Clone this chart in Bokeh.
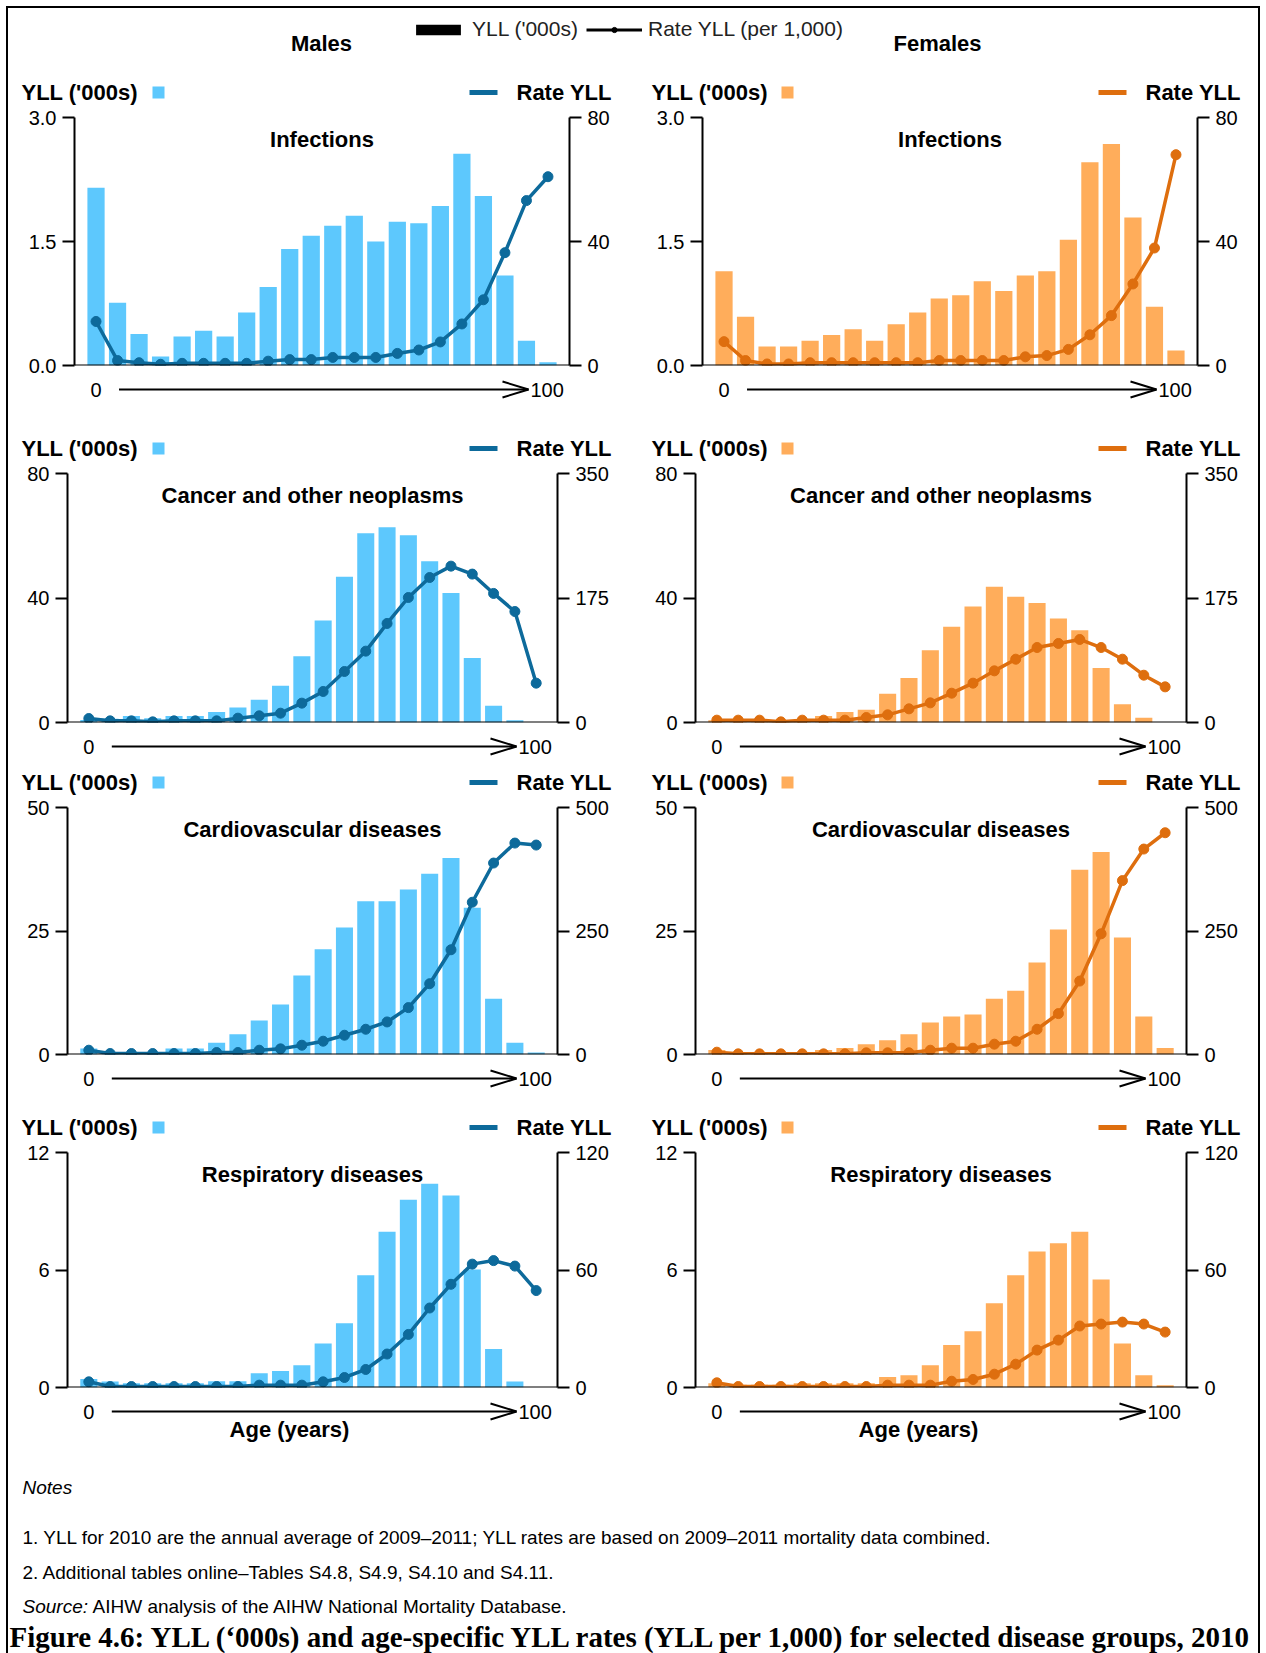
from bokeh.plotting import figure
from bokeh.models import (ColumnDataSource, Range1d, LinearAxis, FixedTicker, Label,
                          Span, BoxAnnotation, Arrow, Legend, LegendItem)
from bokeh.layouts import column, row
from bokeh.embed import file_html
from bokeh.resources import INLINE

# ---------------- data ----------------
age_groups = ["0", "1–4", "5–9", "10–14", "15–19", "20–24", "25–29", "30–34", "35–39",
              "40–44", "45–49", "50–54", "55–59", "60–64", "65–69", "70–74", "75–79",
              "80–84", "85–89", "90–94", "95–99", "100+"]
age_pos = list(range(len(age_groups)))
age_end_labels = ["0", "100"]

sex_titles = ["Males", "Females"]
disease_titles = ["Infections", "Cancer and other neoplasms",
                  "Cardiovascular diseases", "Respiratory diseases"]

male_inf_yll = [2.15, 0.76, 0.38, 0.11, 0.35, 0.42, 0.35, 0.64, 0.95, 1.41, 1.57, 1.69,
                1.81, 1.50, 1.74, 1.72, 1.93, 2.56, 2.05, 1.09, 0.30, 0.04]
male_inf_rate = [14.2, 1.6, 0.9, 0.4, 0.7, 0.7, 0.7, 0.7, 1.4, 1.9, 1.9, 2.6, 2.6, 2.6,
                 3.9, 5.0, 7.6, 13.4, 21.2, 36.4, 53.2, 60.9]
female_inf_yll = [1.14, 0.59, 0.23, 0.23, 0.30, 0.37, 0.44, 0.30, 0.50, 0.64, 0.81, 0.85,
                  1.02, 0.90, 1.09, 1.14, 1.52, 2.46, 2.68, 1.79, 0.71, 0.18]
female_inf_rate = [7.7, 1.6, 0.5, 0.5, 0.9, 0.9, 0.9, 0.9, 0.9, 0.9, 1.6, 1.6, 1.6, 1.6,
                   2.8, 3.2, 5.2, 9.9, 16.1, 26.3, 37.9, 68.0]

male_can_yll = [0.8, 1.2, 2.1, 1.4, 2.1, 2.1, 3.4, 4.8, 7.3, 11.8, 21.3, 32.8, 46.8, 60.8,
                62.7, 60.2, 51.8, 41.6, 20.7, 5.4, 0.75, 0.0]
male_can_rate = [5.6, 2.3, 2.3, 0.9, 2.3, 2.3, 2.3, 6.1, 9.4, 13.1, 27.2, 43.6, 71.7, 100.3,
                 139.2, 175.7, 203.8, 219.8, 208.6, 181.4, 156.0, 55.3]
female_can_yll = [0.7, 1.1, 1.1, 0.5, 1.1, 2.1, 3.4, 4.1, 9.2, 14.3, 23.2, 30.8, 37.3, 43.6,
                  40.4, 38.4, 33.4, 29.6, 17.5, 5.9, 1.5, 0.0]
female_can_rate = [3.3, 3.3, 3.3, 0.9, 3.3, 3.3, 3.3, 7.0, 10.8, 19.2, 27.6, 41.2, 55.3, 72.6,
                   89.0, 105.4, 111.1, 116.7, 105.4, 89.0, 66.5, 50.1]

male_cvd_yll = [1.2, 0.5, 0.5, 0.5, 1.2, 1.2, 2.4, 4.1, 6.9, 10.1, 16.0, 21.3, 25.7, 31.0,
                31.0, 33.4, 36.6, 39.8, 29.7, 11.3, 2.4, 0.4]
male_cvd_rate = [8.7, 2.0, 2.0, 2.0, 2.0, 2.0, 4.0, 4.0, 8.7, 11.4, 18.8, 26.9, 39.0, 51.1,
                 65.9, 94.9, 143.3, 212.0, 308.2, 387.6, 428.0, 424.0]
female_cvd_yll = [0.9, 0.3, 0.4, 0.4, 0.4, 0.9, 1.3, 2.1, 2.9, 4.1, 6.5, 7.7, 8.1, 11.3,
                  12.9, 18.6, 25.3, 37.4, 41.0, 23.7, 7.7, 1.3]
female_cvd_rate = [4.7, 1.3, 1.3, 1.3, 1.3, 1.3, 1.3, 3.4, 3.4, 3.4, 8.7, 12.8, 12.8, 20.9,
                   26.9, 51.1, 82.8, 148.7, 244.3, 352.0, 415.9, 448.9]

male_resp_yll = [0.43, 0.31, 0.22, 0.22, 0.22, 0.22, 0.32, 0.32, 0.73, 0.84, 1.14, 2.25,
                 3.28, 5.73, 7.95, 9.59, 10.41, 9.80, 6.02, 1.96, 0.31, 0.0]
male_resp_rate = [2.9, 0.5, 0.5, 0.5, 0.5, 0.5, 0.5, 0.5, 1.2, 1.2, 1.2, 2.9, 5.1, 9.2,
                  17.1, 27.1, 40.6, 52.7, 63.0, 64.8, 62.0, 49.5]
female_resp_yll = [0.22, 0.14, 0.14, 0.14, 0.22, 0.22, 0.22, 0.22, 0.53, 0.63, 1.14, 2.17,
                   2.87, 4.30, 5.73, 6.95, 7.36, 7.95, 5.51, 2.25, 0.63, 0.12]
female_resp_rate = [2.4, 0.5, 0.5, 0.5, 0.5, 0.5, 0.5, 0.5, 1.2, 1.2, 1.2, 3.2, 4.1, 6.8,
                    11.9, 19.1, 24.2, 31.4, 32.4, 33.4, 32.4, 28.3]

yll_axis_max = [3.0, 80, 50, 12]
yll_axis_ticks = [[0, 1.5, 3.0], [0, 40, 80], [0, 25, 50], [0, 6, 12]]
yll_axis_labels = [["0.0", "1.5", "3.0"], ["0", "40", "80"], ["0", "25", "50"], ["0", "6", "12"]]
rate_axis_max = [80, 350, 500, 120]
rate_axis_ticks = [[0, 40, 80], [0, 175, 350], [0, 250, 500], [0, 60, 120]]
rate_axis_labels = [["0", "40", "80"], ["0", "175", "350"], ["0", "250", "500"], ["0", "60", "120"]]

legend_labels = ["YLL ('000s)", "Rate YLL (per 1,000)"]
panel_bar_label = "YLL ('000s)"
panel_line_label = "Rate YLL"
age_axis_title = "Age (years)"
notes_lines = ["Notes",
               "1.  YLL for 2010 are the annual average of 2009–2011; YLL rates are based on 2009–2011 mortality data combined.",
               "2.  Additional tables online–Tables S4.8, S4.9, S4.10 and S4.11."]
source_lead = "Source:"
source_text = "AIHW analysis of the AIHW National Mortality Database."
caption = "Figure 4.6: YLL (‘000s) and age-specific YLL rates (YLL per 1,000) for selected disease groups, 2010"

male_yll = [male_inf_yll, male_can_yll, male_cvd_yll, male_resp_yll]
male_rate = [male_inf_rate, male_can_rate, male_cvd_rate, male_resp_rate]
female_yll = [female_inf_yll, female_can_yll, female_cvd_yll, female_resp_yll]
female_rate = [female_inf_rate, female_can_rate, female_cvd_rate, female_resp_rate]

# ---------------- style / layout ----------------
FONT = "Liberation Sans"
SERIF = "Liberation Serif"
BAR_COLORS = ["#5DC8FD", "#FFAD5B"]
LINE_COLORS = ["#0D6A9B", "#DE6E0E"]

X0 = 8                      # page x of content left edge
CONTENT_W = 1250
COL_LEFT = [8, 636]
COL_RIGHT = [636, 1258]
PAD = 12                    # chart canvas padding above/below frame (room for tick labels)
ROWS = [
    dict(ctop=70, ftop=117, H=248, cbot=420, fl=[74, 702], fw=[495, 495], head=96),
    dict(ctop=420, ftop=473, H=249, cbot=760, fl=[67, 695], fw=[490, 491], head=453),
    dict(ctop=760, ftop=807, H=247, cbot=1105, fl=[67, 695], fw=[490, 491], head=786),
    dict(ctop=1105, ftop=1152, H=235, cbot=1450, fl=[67, 695], fw=[490, 491], head=1132),
]
HEAD_YLL_X = [21, 651]
HEAD_SQ_X = [(152, 164), (781, 793)]
HEAD_LINE_X = [(469, 497), (1098, 1126)]
HEAD_RATE_X = [516, 1145]
AGE_TITLE_X = [289, 918]


def blank(width, height):
    f = figure(width=width, height=height, x_range=Range1d(0, width), y_range=Range1d(0, height),
               min_border=0, x_axis_location=None, y_axis_location=None,
               toolbar_location=None, output_backend="svg", outline_line_color=None,
               background_fill_color="white", border_fill_color="white")
    f.grid.visible = False
    return f


def text(fig, x, y, s, size="22px", style="bold", align="left", baseline="middle",
         font=FONT, color="black"):
    fig.add_layout(Label(x=x, y=y, x_units="screen", y_units="screen", text=s,
                         text_font=font, text_font_style=style, text_font_size=size,
                         text_align=align, text_baseline=baseline, text_color=color))


def box(fig, l, r, b, t, color):
    fig.add_layout(BoxAnnotation(left=l, right=r, bottom=b, top=t,
                                 left_units="screen", right_units="screen",
                                 bottom_units="screen", top_units="screen",
                                 fill_color=color, fill_alpha=1, line_color=None))


def style_axis(ax, ticks, labels):
    ax.ticker = FixedTicker(ticks=ticks)
    ax.major_label_overrides = {t: l for t, l in zip(ticks, labels)}
    ax.axis_line_color = "black"
    ax.axis_line_width = 2
    ax.major_tick_line_color = "black"
    ax.major_tick_line_width = 2
    ax.major_tick_out = 12
    ax.major_tick_in = 0
    ax.minor_tick_line_color = None
    ax.major_label_text_font = FONT
    ax.major_label_text_font_size = "20px"
    ax.major_label_text_color = "black"
    ax.major_label_standoff = 6


def make_chart(r, c, yll, rate):
    g = ROWS[r]
    fl, fw, H = g["fl"][c], g["fw"][c], g["H"]
    ml = fl - COL_LEFT[c]
    mr = COL_RIGHT[c] - (fl + fw)
    p = figure(frame_width=fw, frame_height=H, min_border_left=ml, min_border_right=mr,
               min_border_top=PAD, min_border_bottom=PAD,
               x_range=Range1d(-1, len(age_groups)), y_range=Range1d(0, yll_axis_max[r]),
               x_axis_location=None, toolbar_location=None, output_backend="svg",
               outline_line_color=None, background_fill_color="white",
               border_fill_color="white")
    p.grid.visible = False
    p.extra_y_ranges = {"rate": Range1d(0, rate_axis_max[r])}
    style_axis(p.yaxis[0], yll_axis_ticks[r], yll_axis_labels[r])
    ra = LinearAxis(y_range_name="rate")
    style_axis(ra, rate_axis_ticks[r], rate_axis_labels[r])
    p.add_layout(ra, "right")

    src = ColumnDataSource(dict(x=age_pos, age=age_groups, yll=yll, rate=rate))
    p.vbar(x="x", top="yll", width=0.8, source=src, fill_color=BAR_COLORS[c], line_color=None)
    p.line(x="x", y="rate", source=src, y_range_name="rate", line_color=LINE_COLORS[c],
           line_width=3.5)
    p.scatter(x="x", y="rate", source=src, y_range_name="rate", size=10,
              fill_color=LINE_COLORS[c], line_color=LINE_COLORS[c])
    p.add_layout(Span(location=0, dimension="width", line_color="black", line_width=2))
    text(p, fw / 2, H - 22, disease_titles[r], align="center")
    return p


def make_head(r):
    g = ROWS[r]
    top = g["ctop"]
    bottom = g["ftop"] - PAD
    h = bottom - top
    f = blank(CONTENT_W, h)
    head_y = min(g["head"], bottom - 13)
    y = bottom - head_y
    for c in range(2):
        text(f, HEAD_YLL_X[c] - X0, y, panel_bar_label)
        l, rr = HEAD_SQ_X[c]
        box(f, l - X0, rr - X0, y - 6, y + 6, BAR_COLORS[c])
        l, rr = HEAD_LINE_X[c]
        box(f, l - X0, rr - X0, y - 2.5, y + 2.5, LINE_COLORS[c])
        text(f, HEAD_RATE_X[c] - X0, y, panel_line_label)
    return f


def make_foot(r):
    g = ROWS[r]
    fbot = g["ftop"] + g["H"]
    top = fbot + PAD
    h = g["cbot"] - top
    f = blank(CONTENT_W, h)
    ay = g["cbot"] - (fbot + 24)
    for c in range(2):
        fl, fw = g["fl"][c], g["fw"][c]
        unit = fw / (len(age_groups) + 1)
        zero_x = fl + unit - X0
        x0 = zero_x + 23
        tip = fl + fw - 41 - X0
        text(f, zero_x, ay, age_end_labels[0], size="20px", style="normal", align="center")
        f.add_layout(Arrow(x_start=x0, y_start=ay, x_end=tip, y_end=ay, start_units="screen",
                           end_units="screen", end=None, line_color="black", line_width=2))
        for d in (8, -8):
            f.add_layout(Arrow(x_start=tip, y_start=ay, x_end=tip - 26, y_end=ay + d,
                               start_units="screen", end_units="screen", end=None,
                               line_color="black", line_width=2))
        text(f, tip + 2, ay, age_end_labels[1], size="20px", style="normal", align="left")
        if r == len(ROWS) - 1:
            text(f, AGE_TITLE_X[c] - X0, g["cbot"] - (fbot + 42), age_axis_title,
                 align="center")
    return f


# ---------------- top header with key ----------------
HDR_H = 62
hdr = blank(CONTENT_W, HDR_H)
key_src = ColumnDataSource(dict(x=[float("nan")], y=[float("nan")]))
r_bar = hdr.vbar(x="x", top="y", width=1, source=key_src, fill_color="black", line_color=None)
r_line = hdr.line(x="x", y="y", source=key_src, line_color="black", line_width=3)
r_dot = hdr.scatter(x="x", y="y", source=key_src, size=7, fill_color="black", line_color="black")
legend = Legend(items=[LegendItem(label=legend_labels[0], renderers=[r_bar]),
                       LegendItem(label=legend_labels[1], renderers=[r_line, r_dot])],
                location=(402, 29), orientation="horizontal", glyph_width=56, glyph_height=13,
                label_height=24, label_standoff=6, spacing=8, padding=0, margin=0,
                border_line_color=None, background_fill_alpha=0,
                label_text_font=FONT, label_text_font_size="21px", label_text_color="#222222")
hdr.add_layout(legend)
for c, xc in enumerate([321, 937]):
    text(hdr, xc - X0, HDR_H + 8 - 43, sex_titles[c], align="center")

# ---------------- panels ----------------
blocks = []
for r in range(len(ROWS)):
    blocks.append(make_head(r))
    blocks.append(row(make_chart(r, 0, male_yll[r], male_rate[r]),
                      make_chart(r, 1, female_yll[r], female_rate[r]), spacing=0))
    blocks.append(make_foot(r))

# ---------------- notes ----------------
NOTES_TOP = 1450
NOTES_H = 1653 - NOTES_TOP
notes = blank(CONTENT_W, NOTES_H)


def ny(page_y):
    return NOTES_TOP + NOTES_H - page_y


text(notes, 14, ny(1487), notes_lines[0], size="19px", style="italic")
text(notes, 14, ny(1537), notes_lines[1], size="19px", style="normal")
text(notes, 14, ny(1572), notes_lines[2], size="19px", style="normal")
text(notes, 14, ny(1606), source_lead, size="19px", style="italic")
text(notes, 84, ny(1606), source_text, size="19px", style="normal")
text(notes, 1, ny(1636), caption, size="29px", style="bold", baseline="middle", font=SERIF)

root = column(hdr, *blocks, notes, spacing=0,
              styles={"border-left": "2px solid black", "border-top": "2px solid black",
                      "border-right": "2px solid black", "margin": "6px 0px 0px 6px"})

open("out.html", "w").write(file_html(root, INLINE))
